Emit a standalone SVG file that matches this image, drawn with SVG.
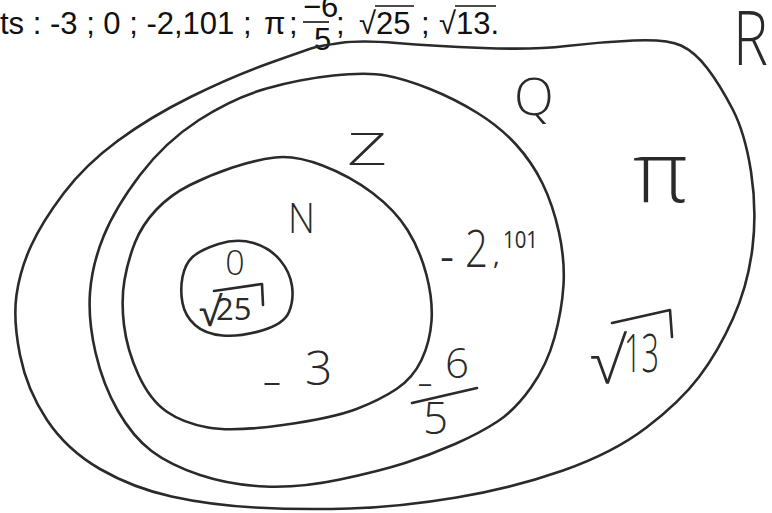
<svg xmlns="http://www.w3.org/2000/svg" width="772" height="513" viewBox="0 0 772 513">
<style>
.curve{fill:none;stroke:#2a2a2a;stroke-width:2.6;stroke-linecap:round;stroke-linejoin:round}
.hw{font-family:"Open Sans","DejaVu Sans",sans-serif;font-weight:300;fill:#2a2a2a}
.hw4{font-family:"Open Sans","DejaVu Sans",sans-serif;font-weight:400;fill:#2a2a2a}
.pen{fill:none;stroke:#2a2a2a;stroke-width:2.6;stroke-linecap:round;stroke-linejoin:round}
.typed{font-family:"Liberation Sans",Arial,sans-serif;font-size:31px;fill:#111}
.rule{stroke:#111;stroke-width:1.6}
</style>
<rect width="772" height="513" fill="#ffffff"/>

<g id="header">
  <text class="typed" x="0" y="34">ts : -3 ; 0 ; -2,101 ;</text>
  <text class="typed" x="264" y="34" font-family="Liberation Serif, serif">π</text>
  <text class="typed" x="289" y="34">;</text>
  <text class="typed" x="303" y="17" font-size="17">−6</text>
  <line class="rule" x1="303" y1="22" x2="329" y2="22"/>
  <text class="typed" x="314" y="50" font-size="18">5</text>
  <text class="typed" x="336" y="34">;</text>
  <text class="typed" x="359" y="34">√25</text>
  <line class="rule" x1="375" y1="6" x2="414" y2="6"/>
  <text class="typed" x="421" y="34">;</text>
  <text class="typed" x="439" y="34">√13.</text>
  <line class="rule" x1="455" y1="6" x2="496" y2="6"/>
</g>

<g id="set-R">
  <path class="curve" d="M316,47 Q320,46 340,43 Q360,40 396.5,43 Q433,46 483,48 Q533,50 566.5,46 Q600,42 633.5,40.5 Q667,39 681,45.5 Q695,52 707.5,68.5 Q720,85 732.5,109 Q745,133 751,171.5 Q757,210 752.5,247.5 Q748,285 733,318.5 Q718,352 699,377 Q680,402 646.5,427.5 Q613,453 563,470.5 Q513,488 456.5,497.5 Q400,507 350,508.5 Q300,510 255,507.5 Q210,505 171.5,496.5 Q133,488 100,469 Q67,450 47,420 Q27,390 20,355 Q13,320 16.5,295 Q20,270 31,246 Q42,222 63.5,193.5 Q85,165 117.5,141 Q150,117 191.5,96.5 Q233,76 272.5,62 Q312,48 316,47"/>
  <text class="hw" x="733" y="65" font-size="76" textLength="35" lengthAdjust="spacingAndGlyphs">R</text>
  <text class="hw" transform="translate(633,202) scale(1,1.4)" font-size="60" textLength="55" lengthAdjust="spacingAndGlyphs">π</text>
  <text class="hw"><tspan x="590" y="383" font-size="64">√</tspan><tspan x="624" y="372" font-size="54" textLength="35" lengthAdjust="spacingAndGlyphs">13</tspan></text>
  <path class="pen" d="M612,323 L670,310 L672,337"/>
</g>

<g id="set-Q">
  <path class="curve" d="M266.5,88.5 Q300,79 333.5,75.5 Q367,72 386,75.5 Q405,79 430,89 Q455,99 477.5,113 Q500,127 516,144.5 Q532,162 542.5,183.5 Q553,205 559,232.5 Q565,260 563.5,285 Q562,310 554.5,337.5 Q547,365 531,387.5 Q515,410 497.5,421.5 Q480,433 455,444 Q430,455 405,463 Q380,471 340,479.5 Q300,488 265,486.5 Q230,485 200,475 Q170,465 151.5,451 Q133,437 118,411 Q103,385 95.5,352.5 Q88,320 90,292.5 Q92,265 103.5,236.5 Q115,208 140,175 Q165,142 199,120 Q233,98 266.5,88.5 Z"/>
  <text class="hw" x="514" y="115" font-size="52">Q</text>
  <text class="hw4"><tspan x="440" y="270" font-size="36" textLength="14" lengthAdjust="spacingAndGlyphs">-</tspan><tspan x="465" y="267" font-size="52" font-weight="300" textLength="23" lengthAdjust="spacingAndGlyphs">2</tspan><tspan x="493" y="265" font-size="26">,</tspan><tspan x="503" y="248" font-size="24" textLength="35" lengthAdjust="spacingAndGlyphs">101</tspan></text>
  <text class="hw"><tspan x="417" y="396" font-size="40" textLength="16" lengthAdjust="spacingAndGlyphs">-</tspan><tspan x="445" y="378" font-size="42">6</tspan></text>
  <line class="pen" x1="412" y1="403" x2="477" y2="388"/>
  <text class="hw" x="423" y="434" font-size="44">5</text>
</g>

<g id="set-Z">
  <path class="curve" d="M275,157.5 Q295,155 322.5,165.5 Q350,176 372.5,193 Q395,210 407.5,230 Q420,250 426.5,275 Q433,300 431.5,321 Q430,342 421.5,360 Q413,378 396.5,389 Q380,400 356.5,409 Q333,418 283,425 Q233,432 208,427.5 Q183,423 166.5,411.5 Q150,400 138.5,375 Q127,350 124,325 Q121,300 124.5,280 Q128,260 135,242.5 Q142,225 156,210 Q170,195 190,185 Q210,175 232.5,167.5 Q255,160 275,157.5 Z"/>
  <text class="hw" x="347" y="165" font-size="44" textLength="40" lengthAdjust="spacingAndGlyphs">Z</text>
  <text class="hw"><tspan x="262" y="396" font-size="44" textLength="20" lengthAdjust="spacingAndGlyphs">-</tspan><tspan x="305" y="385" font-size="48">3</tspan></text>
</g>

<g id="set-N">
  <path class="curve" d="M192.5,257 Q200,250 218.5,244 Q237,238 253.5,243 Q270,248 280,260 Q290,272 292,286 Q294,300 289,312 Q284,324 262,330.5 Q240,337 222.5,335.5 Q205,334 195,325 Q185,316 182.5,303 Q180,290 182.5,277 Q185,264 192.5,257 Z"/>
  <text class="hw" x="288" y="233" font-size="43" textLength="27" lengthAdjust="spacingAndGlyphs">N</text>
  <text class="hw" x="235" y="275" font-size="34" text-anchor="middle">0</text>
  <text class="hw4"><tspan x="199" y="326" font-size="40">√</tspan><tspan x="216" y="320" font-size="31">25</tspan></text>
  <path class="pen" d="M214,291 L262,284 L263,305"/>
</g>
</svg>
